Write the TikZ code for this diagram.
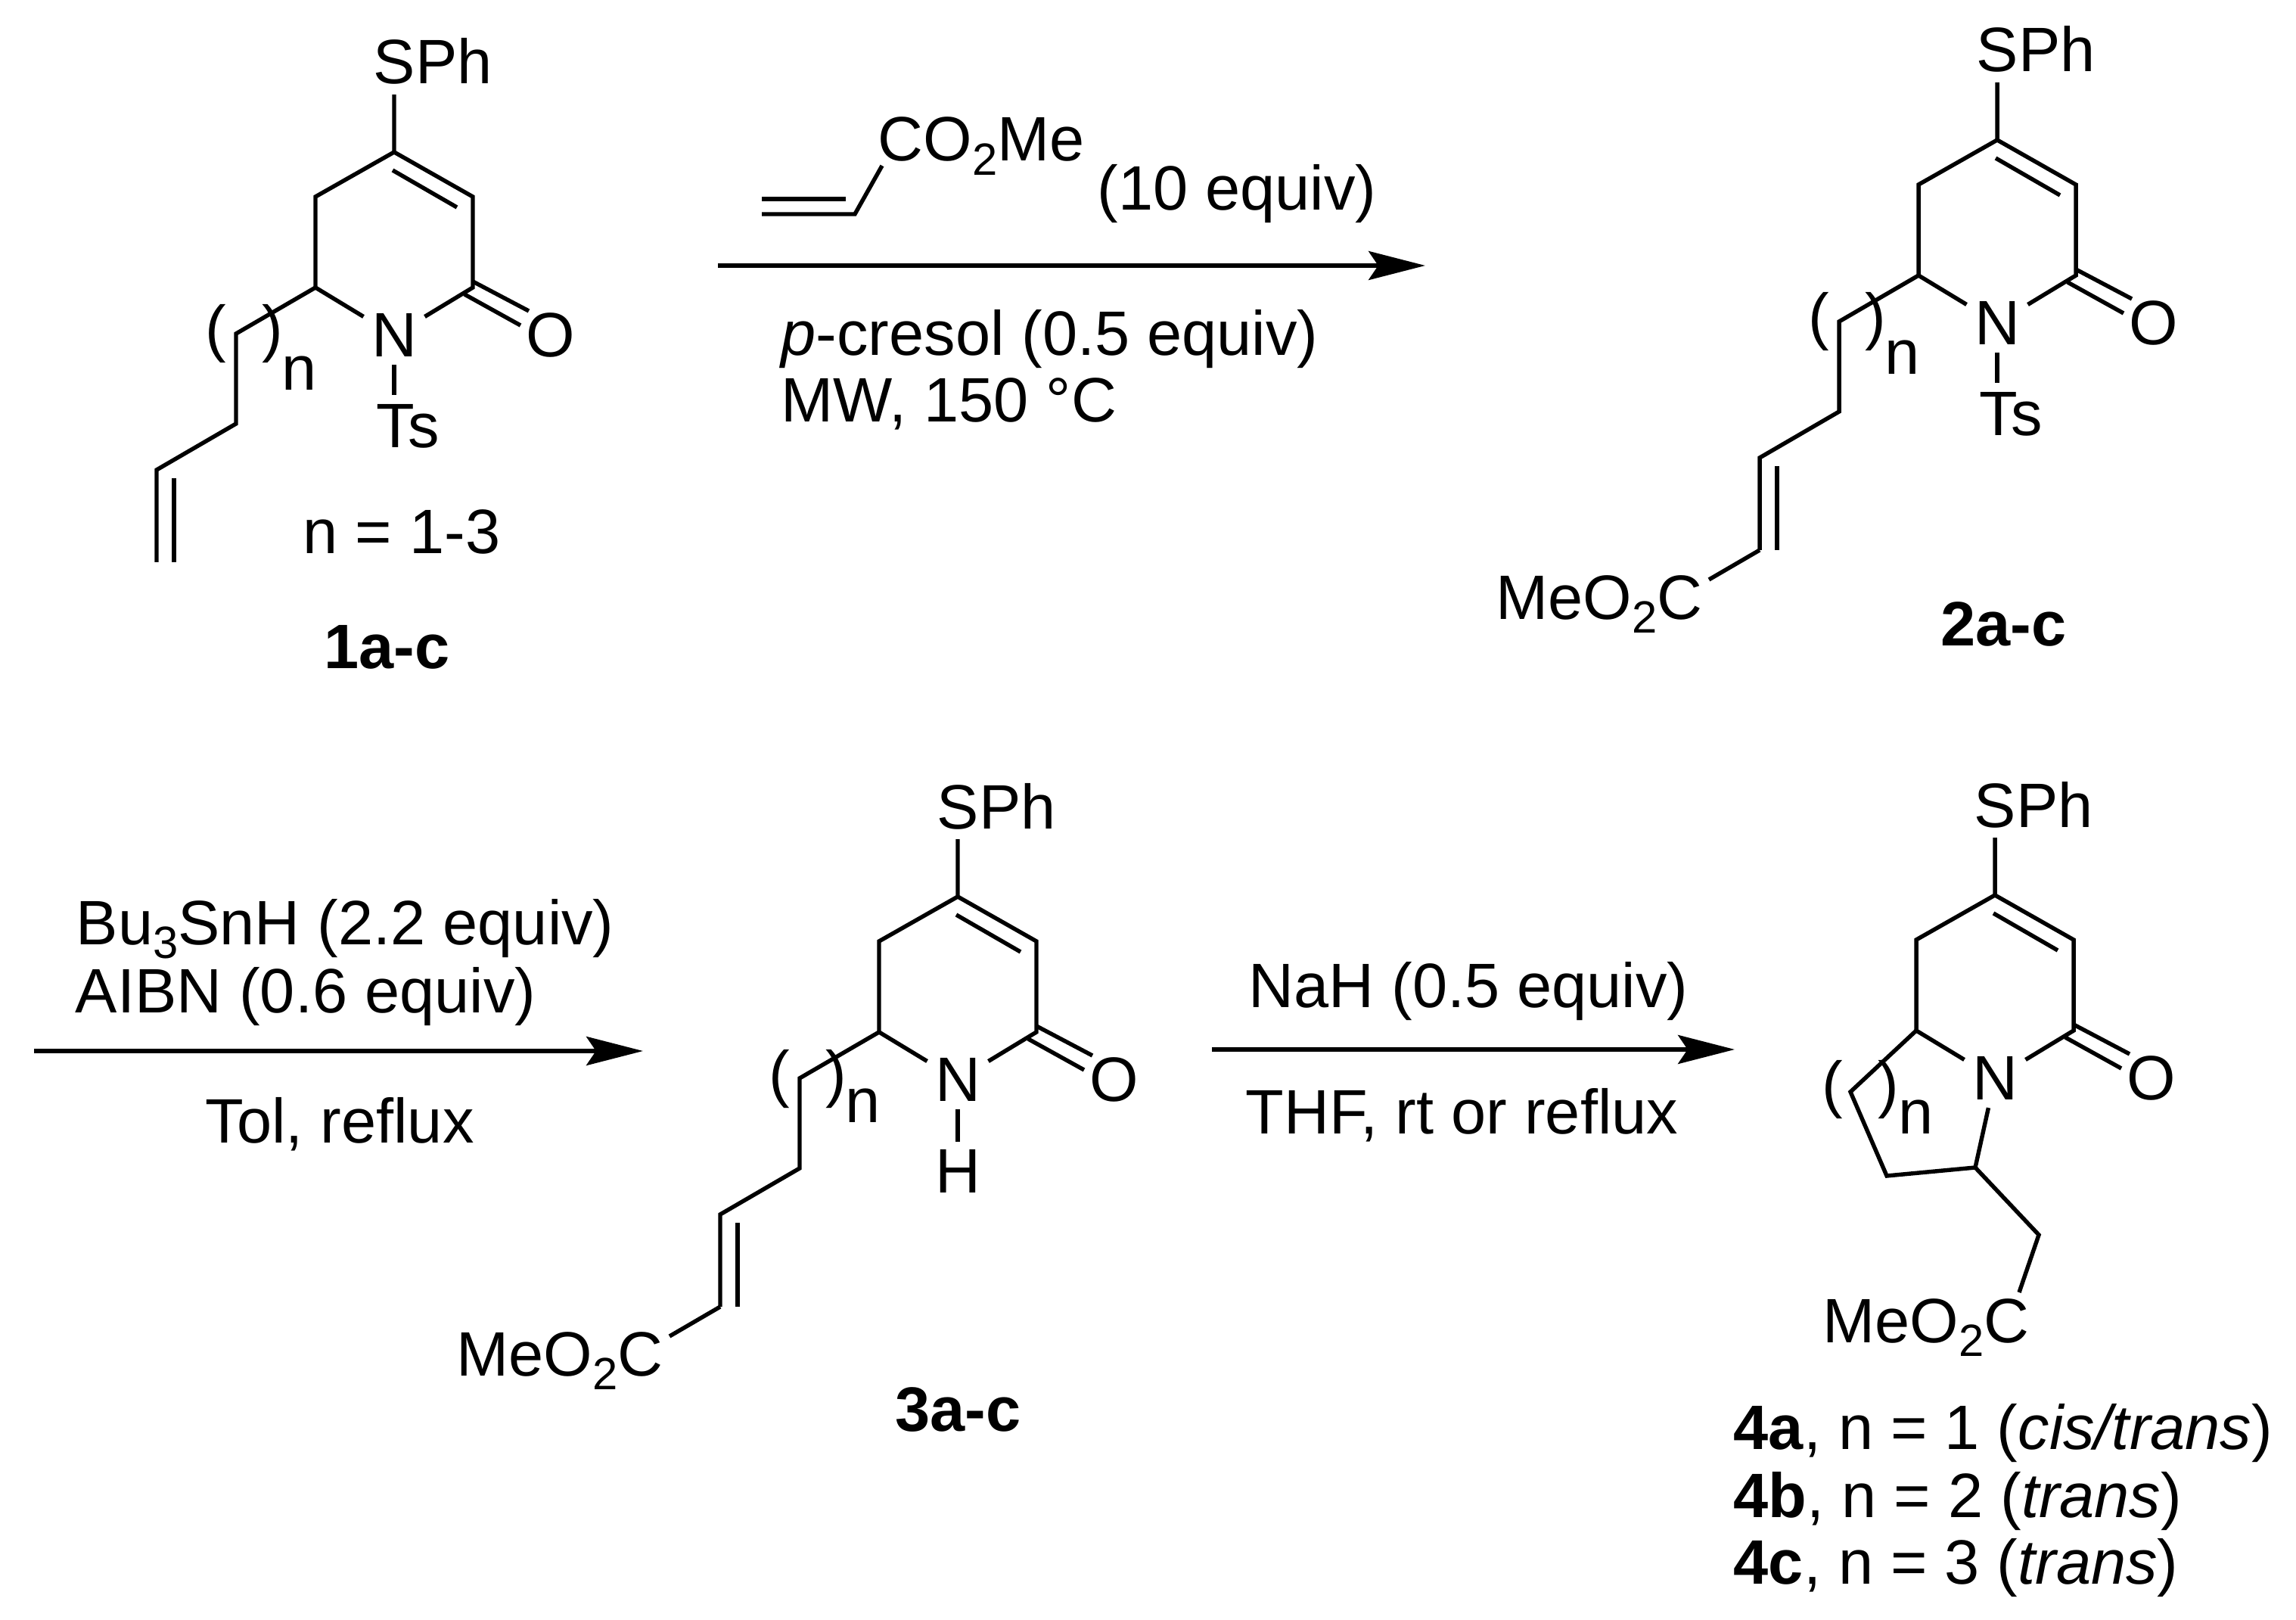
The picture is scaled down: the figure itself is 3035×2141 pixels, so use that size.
\documentclass[tikz,border=0pt]{standalone}
\usepackage{fontspec}
\setmainfont{Liberation Sans}
\usepackage{tikz}
\usetikzlibrary{arrows.meta}
\newcommand\myfont{\fontsize{23.6pt}{28pt}\selectfont}
\newcommand\mysub[1]{\raisebox{-0.22em}{\fontsize{17pt}{18pt}\selectfont #1}}
% ring with SPh and C=O, c4 at #2,#3
\newcommand\myring[3]{%
\begin{scope}[shift={(#2,#3)}]
\coordinate (#1c4) at (0,0);
\coordinate (#1c3) at (104,59);
\coordinate (#1c2) at (104,179);
\coordinate (#1c6) at (-104,179);
\coordinate (#1c5) at (-104,59);
\coordinate (#1i3) at (-2,24);
\coordinate (#1i2) at (83,73);
\coordinate (#1p1) at (104,171);
\coordinate (#1p2) at (178,210);
\coordinate (#1q1) at (93,188);
\coordinate (#1q2) at (167,229);
\coordinate (#1z) at (0,-76);
\node[atom] (#1n) at (0,242) {N};
\node[atom] (#1o) at (207,242) {O};
\node[txt] (#1s) at (-28,-90) {SPh};
\draw[bond] (#1z) -- (#1c4) -- (#1c3) -- (#1c2) -- (#1n);
\draw[bond] (#1n) -- (#1c6) -- (#1c5) -- (#1c4);
\draw[bond] (#1i3) -- (#1i2);
\draw[bond] (#1p1) -- (#1p2);
\draw[bond] (#1q1) -- (#1q2);
\end{scope}
}
% open chain with brackets, n baseline at #4
\newcommand\mychain[4]{%
\begin{scope}[shift={(#2,#3)}]
\coordinate (#1d1) at (-209,240);
\coordinate (#1d2) at (-209,359);
\coordinate (#1d3) at (-314,420);
\coordinate (#1d4) at (-314,542);
\coordinate (#1e3) at (-291,431);
\coordinate (#1e4) at (-291,542);
\node[txt] (#1l) at (-250,262) {(};
\node[txt] (#1r) at (-175,262) {)};
\node[txt] (#1m) at (-149,#4) {n};
\draw[bond] (#1c6) -- (#1d1) -- (#1d2) -- (#1d3) -- (#1d4);
\draw[bond] (#1e3) -- (#1e4);
\end{scope}
}
\newcommand\myester[3]{%
\begin{scope}[shift={(#2,#3)}]
\coordinate (#1f) at (-381,581);
\node[txt] (#1g) at (-663,633) {MeO\mysub{2}C};
\draw[bond] (#1d4) -- (#1f);
\end{scope}
}
\begin{document}
\begin{tikzpicture}[
x=0.1mm,y=-0.1mm,
every node/.style={font=\myfont},
bond/.style={line width=1.55pt},
atom/.style={inner sep=2.8pt},
txt/.style={anchor=base west,inner sep=0pt},
rxn/.style={line width=1.7pt,-{Stealth[length=21.3pt,width=10.8pt,inset=3.6pt]}}
]
\useasboundingbox (0,0) rectangle (3035,2141);
% compound 1
\myring{a}{521}{201}
\mychain{a}{521}{201}{315}
\node[txt] (at) at (497,592) {Ts};
\coordinate (aj) at (521,522);
\draw[bond] (an) -- (aj);
\node[txt] (an1) at (400,731) {n = 1-3};
\node[txt] (al) at (428,883) {\bfseries 1a-c};
% compound 2
\myring{b}{2640}{185}
\mychain{b}{2640}{185}{310}
\myester{b}{2640}{185}
\node[txt] (bt) at (2616,576) {Ts};
\coordinate (bj) at (2640,506);
\draw[bond] (bn) -- (bj);
\node[txt] (bl) at (2565,853) {\bfseries 2a-c};
% compound 3
\myring{c}{1266}{1185}
\mychain{c}{1266}{1185}{298}
\myester{c}{1266}{1185}
\node[atom] (ch) at (1266,1548) {H};
\draw[bond] (cn) -- (ch);
\node[txt] (cl) at (1183,1891) {\bfseries 3a-c};
% compound 4
\myring{d}{2637}{1183}
\coordinate (dg1) at (2446,1443);
\coordinate (dg2) at (2494,1554);
\coordinate (dg3) at (2611,1543);
\coordinate (dg4) at (2695,1632);
\coordinate (dg5) at (2669,1708);
\draw[bond] (dc6) -- (dg1) -- (dg2) -- (dg3) -- (dg4) -- (dg5);
\draw[bond] (dg3) -- (dn);
\node[txt] (dl) at (2408,1461) {(};
\node[txt] (dr) at (2482,1461) {)};
\node[txt] (dm) at (2509,1498) {n};
\node[txt] (dk) at (2409,1774) {MeO\mysub{2}C};
\node[txt] (da) at (2291,1915) {\textbf{4a}, n = 1 (\textit{cis/trans})};
\node[txt] (db) at (2291,2005) {\textbf{4b}, n = 2 (\textit{trans})};
\node[txt] (dc) at (2291,2093) {\textbf{4c}, n = 3 (\textit{trans})};
% first arrow
\coordinate (r1s) at (949,351);
\coordinate (r1e) at (1884,351);
\draw[rxn] (r1s) -- (r1e);
\coordinate (v1) at (1007,283);
\coordinate (v2) at (1130,283);
\coordinate (v3) at (1166,219);
\coordinate (v4) at (1007,263);
\coordinate (v5) at (1118,263);
\draw[bond] (v1) -- (v2) -- (v3);
\draw[bond] (v4) -- (v5);
\node[txt] (r1a) at (1160,213) {CO\mysub{2}Me};
\node[txt] (r1b) at (1450,278) {(10 equiv)};
\node[txt] (r1c) at (1032,470) {\textit{p}-cresol (0.5 equiv)};
\node[txt] (r1d) at (1032,558) {MW, 150 °C};
% second arrow
\coordinate (r2s) at (45,1389);
\coordinate (r2e) at (850,1389);
\draw[rxn] (r2s) -- (r2e);
\node[txt] (r2a) at (100,1248) {Bu\mysub{3}SnH (2.2 equiv)};
\node[txt] (r2b) at (99,1338) {AIBN (0.6 equiv)};
\node[txt] (r2c) at (271,1510) {Tol, reflux};
% third arrow
\coordinate (r3s) at (1602,1387);
\coordinate (r3e) at (2293,1387);
\draw[rxn] (r3s) -- (r3e);
\node[txt] (r3a) at (1650,1331) {NaH (0.5 equiv)};
\node[txt] (r3b) at (1646,1498) {THF, rt or reflux};
\end{tikzpicture}
\end{document}
